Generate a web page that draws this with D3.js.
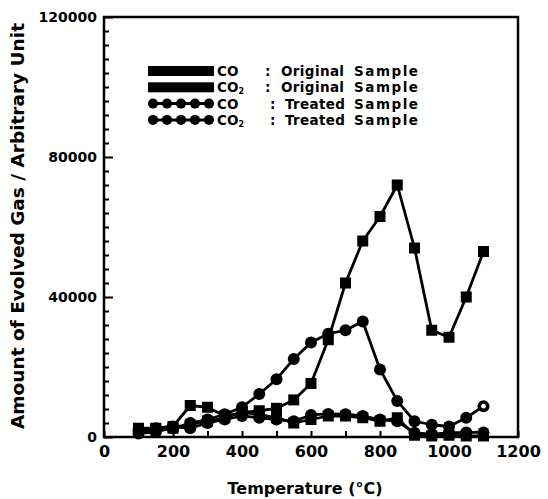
<!DOCTYPE html>
<html><head><meta charset="utf-8">
<script src="https://cdn.jsdelivr.net/npm/d3@7"></script>
<style>html,body{margin:0;padding:0;background:#fff}svg{display:block}</style>
</head><body>
<script>
const temps = [100,150,200,250,300,350,400,450,500,550,600,650,700,750,800,850,900,950,1000,1050,1100];
const coOriginal  = [2500,2500,3000,9000,8500,6000,7000,6500,5500,4000,5000,6000,6000,5500,4500,5500,500,300,500,300,300];
const co2Original = [1500,2000,2500,3500,4500,5500,7000,7500,8200,10600,15300,27800,44000,56000,63000,72000,54000,30500,28500,40000,53000];
const coTreated   = [2000,2500,3000,2500,4000,5000,6000,5500,5000,4500,6300,6600,6500,6000,5000,4500,1200,800,1200,1300,1300];
const co2Treated  = [1000,1500,2500,4000,5000,6500,8500,12300,16500,22300,27000,29500,30500,33000,19300,10300,4500,3500,3000,5500,8800];
const xTicks = [0,200,400,600,800,1000,1200];
const yTicks = [0,40000,80000,120000];
const legendLabels = [
  {gas:"CO", sub:"", sample:"Original", marker:"square"},
  {gas:"CO", sub:"2", sample:"Original", marker:"square"},
  {gas:"CO", sub:"", sample:"Treated", marker:"circle"},
  {gas:"CO", sub:"2", sample:"Treated", marker:"circle"}
];
const series = [
  {values: co2Original, marker:"square"},
  {values: coOriginal, marker:"square"},
  {values: co2Treated, marker:"circle"},
  {values: coTreated, marker:"circle"}
];

const W = 548, H = 499;
const L = 104, R = 518, T = 17, B = 437;
const svg = d3.select("body").append("svg").attr("width", W).attr("height", H);
const x = d3.scaleLinear().domain([0,1200]).range([L,R]);
const y = d3.scaleLinear().domain([0,120000]).range([B,T]);
const font = "'DejaVu Sans', sans-serif";

// frame
svg.append("rect").attr("x",L).attr("y",T).attr("width",R-L).attr("height",B-T)
  .attr("fill","none").attr("stroke","#000").attr("stroke-width",2.5);

// y minor ticks (inward)
const yAxis = d3.axisRight(y).tickValues(d3.range(0,120001,4000)).tickSize(5).tickFormat("");
const ya = svg.append("g").attr("transform",`translate(${L},0)`).call(yAxis);
ya.select(".domain").remove();
ya.selectAll("line").attr("stroke","#000").attr("stroke-width",2)
  .attr("x2", d => d % 40000 === 0 ? 9 : 5);
// y labels
const yl = d3.axisLeft(y).tickValues(yTicks).tickSize(0).tickPadding(7).tickFormat(d3.format("d"));
const yg = svg.append("g").attr("transform",`translate(${L},0)`).call(yl);
yg.select(".domain").remove();
yg.selectAll("text").attr("font-family",font).attr("font-weight","bold").attr("font-size",14).attr("fill","#000");

// x ticks inward
const xAxis = d3.axisTop(x).tickValues(d3.range(0,1201,100)).tickSize(6).tickFormat("");
const xa = svg.append("g").attr("transform",`translate(0,${B})`).call(xAxis);
xa.select(".domain").remove();
xa.selectAll("line").attr("stroke","#000").attr("stroke-width",2);
const xl = d3.axisBottom(x).tickValues(xTicks).tickSize(0).tickPadding(9).tickFormat(d3.format("d"));
const xg = svg.append("g").attr("transform",`translate(0,${B})`).call(xl);
xg.select(".domain").remove();
xg.selectAll("text").attr("font-family",font).attr("font-weight","bold").attr("font-size",16).attr("fill","#000");

// axis titles
svg.append("text").attr("x",305).attr("y",494).attr("text-anchor","middle")
  .attr("font-family",font).attr("font-weight","bold").attr("font-size",16).text("Temperature (°C)");
svg.append("text").attr("transform","translate(24,226) rotate(-90)").attr("text-anchor","middle")
  .attr("font-family",font).attr("font-weight","bold").attr("font-size",18.5)
  .text("Amount of Evolved Gas / Arbitrary Unit");

// series
const line = d3.line().x((d,i)=>x(temps[i])).y(d=>y(d));
series.forEach(s => {
  svg.append("path").datum(s.values).attr("d",line).attr("fill","none")
    .attr("stroke","#000").attr("stroke-width",2.8).attr("stroke-linejoin","round");
  const g = svg.append("g");
  s.values.forEach((v,i) => {
    if (s.marker === "square") {
      g.append("rect").attr("x",x(temps[i])-5.5).attr("y",y(v)-5.5).attr("width",11).attr("height",11).attr("fill","#000");
    } else {
      g.append("circle").attr("cx",x(temps[i])).attr("cy",y(v)).attr("r",6).attr("fill","#000");
    }
  });
});
// open end marker of CO2 treated
svg.append("circle").attr("cx",x(temps[temps.length-1])).attr("cy",y(co2Treated[co2Treated.length-1]))
  .attr("r",2.4).attr("fill","#fff");

// legend
const lx0 = 153, lx1 = 209;
const fs = 13.5;
legendLabels.forEach((d,i) => {
  const ly = 71 + i*16.3;
  const g = svg.append("g");
  if (d.marker === "square") {
    g.append("rect").attr("x",lx0-5).attr("y",ly-5).attr("width",lx1-lx0+10).attr("height",10).attr("fill","#000");
  } else {
    g.append("line").attr("x1",lx0).attr("x2",lx1).attr("y1",ly).attr("y2",ly).attr("stroke","#000").attr("stroke-width",3);
    d3.range(5).forEach(k => g.append("circle").attr("cx",lx0+k*(lx1-lx0)/4).attr("cy",ly).attr("r",5).attr("fill","#000"));
  }
  const t = g.append("text").attr("x",217).attr("y",ly+5).attr("font-family",font).attr("font-weight","bold").attr("font-size",fs);
  t.append("tspan").text(d.gas);
  if (d.sub) t.append("tspan").attr("font-size",8).attr("dy",2).text(d.sub);
  g.append("text").attr("x",d.sample==="Original"?265:270).attr("y",ly+5).attr("font-family",font).attr("font-weight","bold").attr("font-size",fs).text(":");
  g.append("text").attr("x",d.sample==="Original"?281:285).attr("y",ly+5).attr("font-family",font).attr("font-weight","bold").attr("font-size",fs)
    .attr("textLength",d.sample==="Original"?63:60).text(d.sample);
  g.append("text").attr("x",354).attr("y",ly+5).attr("font-family",font).attr("font-weight","bold").attr("font-size",fs)
    .attr("textLength",64).text("Sample");
});
</script>
</body></html>
